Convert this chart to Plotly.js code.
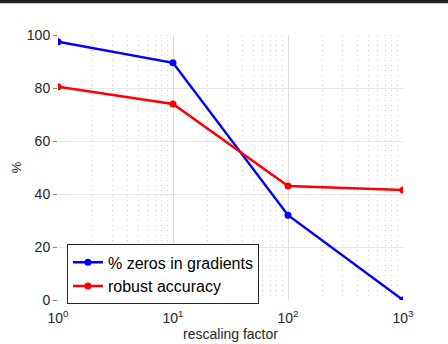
<!DOCTYPE html>
<html>
<head>
<meta charset="utf-8">
<script src="https://cdn.plot.ly/plotly-3.0.1.min.js"></script>
<style>
  html, body { margin: 0; padding: 0; background: #fff; }
  #graph { width: 448px; height: 344px; }
</style>
</head>
<body>
<div id="graph"></div>
<script>
// значения
const rescaling = [1, 10, 100, 1000];
const zerosInGradients = [97.5, 89.5, 32, 0];
const robustAccuracy = [80.5, 74, 43, 41.5];
const xTickVals = [1, 10, 100, 1000];
const xTickText = ['10<sup>0</sup>', '10<sup>1</sup>', '10<sup>2</sup>', '10<sup>3</sup>'];

const traces = [
    {
        x: rescaling,
        y: zerosInGradients,
        type: 'scatter',
        mode: 'lines+markers',
        name: '% zeros in gradients',
        line: { color: '#0000ff', width: 2.5 },
        marker: { color: '#0000ff', size: 7 }
    },
    {
        x: rescaling,
        y: robustAccuracy,
        type: 'scatter',
        mode: 'lines+markers',
        name: 'robust accuracy',
        line: { color: '#ff0000', width: 2.5 },
        marker: { color: '#ff0000', size: 7 }
    }
];

const layout = {
    width: 448,
    height: 344,
    margin: { l: 58, r: 45, t: 35, b: 44 },
    paper_bgcolor: '#fff',
    plot_bgcolor: '#fff',
    font: { family: 'Liberation Sans, Arial, sans-serif', size: 14, color: '#262626' },
    showlegend: true,
    legend: {
        x: 0.026, y: 0.21, xanchor: 'left', yanchor: 'top',
        bgcolor: '#fff', bordercolor: '#262626', borderwidth: 1,
        font: { size: 16, color: '#000' },
        tracegroupgap: 0
    },
    xaxis: {
        type: 'log',
        range: [0, 3],
        tickvals: xTickVals,
        ticktext: xTickText,
        showgrid: true,
        gridcolor: '#dcdcdc',
        zeroline: false,
        showline: false,
        ticks: '',
        ticklabelstandoff: 8,
        minor: { dtick: 'D1', showgrid: true, gridcolor: '#cfcfcf', gridwidth: 1, griddash: '1px,4px', ticks: '' },
        title: { text: 'rescaling factor', font: { size: 14 }, standoff: 4 }
    },
    yaxis: {
        range: [0, 100],
        dtick: 20,
        showgrid: true,
        gridcolor: '#e6e6e6',
        zeroline: false,
        showline: false,
        ticks: 'outside',
        ticklen: 4,
        tickcolor: '#888',
        title: { text: '%', font: { size: 13 }, standoff: 2 }
    },
    shapes: [
        // чёрная полоса сверху (рамка исходного рисунка)
        { type: 'rect', xref: 'paper', yref: 'paper', x0: -0.2, x1: 1.2, y0: 1.12, y1: 1.14,
          fillcolor: '#222', line: { width: 0 } }
    ]
};

Plotly.newPlot('graph', traces, layout, { displayModeBar: false, staticPlot: true });
</script>
</body>
</html>
